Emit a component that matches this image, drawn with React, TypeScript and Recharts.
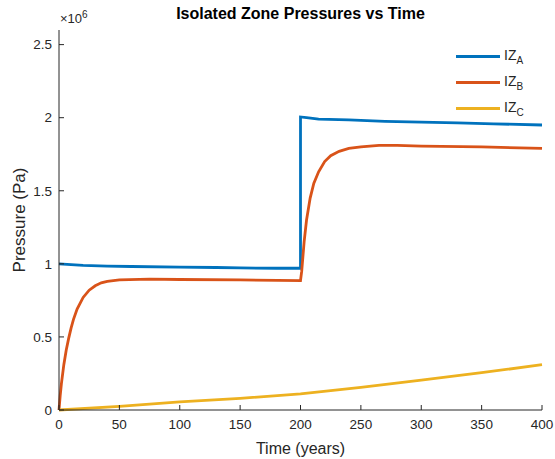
import { LineChart, Line, XAxis, YAxis, Label } from "recharts";

// IZ_A
const aTime = [0, 10, 20, 40, 60, 100, 130, 150, 180, 200, 200, 205, 215, 240, 270, 300, 330, 360, 400];
const aValues = [1.0e6, 0.995e6, 0.99e6, 0.985e6, 0.982e6, 0.978e6, 0.975e6, 0.972e6, 0.97e6, 0.97e6, 2.005e6, 2.0e6, 1.99e6, 1.985e6, 1.975e6, 1.97e6, 1.965e6, 1.958e6, 1.95e6];

// IZ_B
const bTime = [0, 1, 2, 4, 6, 8, 10, 12, 15, 20, 25, 30, 35, 40, 50, 75, 100, 150, 200, 201, 203, 205, 208, 211, 215, 220, 225, 232, 240, 250, 265, 280, 300, 350, 400];
const bValues = [0, 0.1e6, 0.18e6, 0.31e6, 0.41e6, 0.49e6, 0.56e6, 0.62e6, 0.69e6, 0.77e6, 0.82e6, 0.85e6, 0.87e6, 0.88e6, 0.89e6, 0.895e6, 0.893e6, 0.89e6, 0.885e6, 0.95e6, 1.15e6, 1.3e6, 1.45e6, 1.55e6, 1.63e6, 1.7e6, 1.74e6, 1.77e6, 1.79e6, 1.8e6, 1.81e6, 1.81e6, 1.805e6, 1.8e6, 1.79e6];

// IZ_C
const cTime = [0, 50, 100, 150, 200, 250, 300, 350, 400];
const cValues = [0, 0.025e6, 0.055e6, 0.08e6, 0.11e6, 0.155e6, 0.205e6, 0.255e6, 0.31e6];

const xTicks = [0, 50, 100, 150, 200, 250, 300, 350, 400];
const yTicks = [0, 0.5e6, 1e6, 1.5e6, 2e6, 2.5e6];

const series = [
  { key: "A", color: "#0072BD", time: aTime, values: aValues },
  { key: "B", color: "#D95319", time: bTime, values: bValues },
  { key: "C", color: "#EDB120", time: cTime, values: cValues },
];

const font = "'Liberation Sans', Arial, sans-serif";
const ink = "#262626";
const tickStyle = { fontSize: 13.5, fill: ink, fontFamily: font };

export default function App() {
  return (
    <div style={{ position: "relative", width: 555, height: 459, background: "#fff", fontFamily: font }}>
      <style>{`body{margin:0}`}</style>
      <div style={{ position: "absolute", top: 5, left: 0, width: 601, textAlign: "center", fontSize: 16, fontWeight: "bold", color: "#000" }}>
        Isolated Zone Pressures vs Time
      </div>
      <div style={{ position: "absolute", top: 9, left: 60, fontSize: 13, color: ink }}>
        ×10<sup style={{ fontSize: 10 }}>6</sup>
      </div>
      <LineChart width={555} height={459} margin={{ top: 30, right: 13, bottom: 0, left: 0 }}>
        <XAxis
          type="number"
          dataKey="t"
          domain={[0, 400]}
          ticks={xTicks}
          tick={tickStyle}
          tickSize={-5}
          tickMargin={14}
          height={49}
          stroke={ink}
          allowDuplicatedCategory={false}
        >
          <Label value="Time (years)" position="insideBottom" offset={5} style={{ fontSize: 16, fill: ink, fontFamily: font }} />
        </XAxis>
        <XAxis xAxisId="top" orientation="top" type="number" dataKey="t" domain={[0, 400]} ticks={xTicks} tick={false} tickSize={-5} height={0} stroke={ink} />
        <YAxis
          yAxisId="left"
          type="number"
          domain={[0, 2.6e6]}
          ticks={yTicks}
          tickFormatter={(v: number) => String(v / 1e6)}
          tick={tickStyle}
          tickSize={-5}
          tickMargin={12}
          width={59}
          stroke={ink}
        >
          <Label value="Pressure (Pa)" angle={-90} position="insideLeft" offset={19} style={{ fontSize: 17, fill: ink, fontFamily: font, textAnchor: "middle" }} />
        </YAxis>
        <YAxis yAxisId="right" orientation="right" type="number" domain={[0, 2.6e6]} ticks={yTicks} tick={false} tickSize={-5} width={0} stroke={ink} />
        {series.map((s) => (
          <Line
            key={s.key}
            yAxisId="left"
            data={s.time.map((t, i) => ({ t, v: s.values[i] }))}
            dataKey="v"
            stroke={s.color}
            strokeWidth={2.8}
            dot={false}
            activeDot={false}
            isAnimationActive={false}
          />
        ))}
      </LineChart>
      <div style={{ position: "absolute", left: 456, top: 43 }}>
        {series.map((s) => (
          <div key={s.key} style={{ display: "flex", alignItems: "center", height: 26, fontSize: 14, color: ink }}>
            <span style={{ display: "inline-block", width: 44, height: 3, background: s.color, marginRight: 4 }} />
            <span>
              IZ<sub style={{ fontSize: 10 }}>{s.key}</sub>
            </span>
          </div>
        ))}
      </div>
    </div>
  );
}
